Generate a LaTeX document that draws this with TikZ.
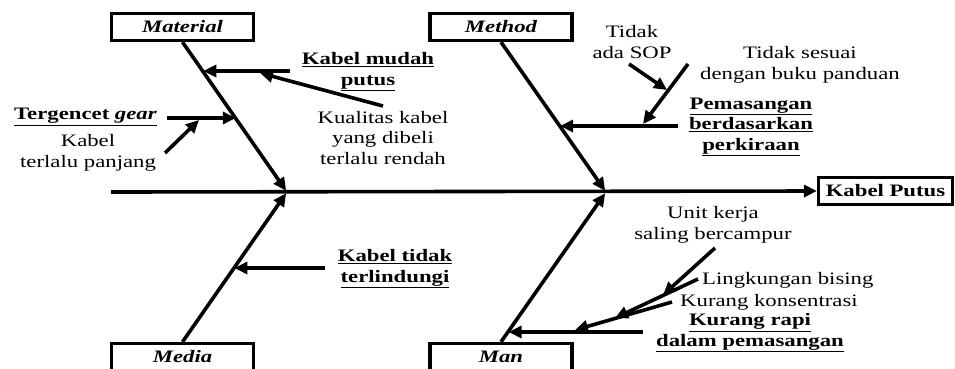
\documentclass[tikz,border=0pt]{standalone}
\usepackage{fontspec}
\setmainfont{Liberation Serif}[FakeStretch=1.3]
\usetikzlibrary{arrows.meta,calc}
\newcommand\fsz{\fontsize{17.5}{20.5}\selectfont}
\tikzset{
  bone/.style={line width=3.6pt,-{Triangle[length=13pt,width=12pt]}},
  catbox/.style={draw,line width=3.2pt,minimum width=142pt,minimum height=27pt,inner sep=0pt,font=\fsz\bfseries\itshape},
  lbl/.style={inner sep=0pt,align=center,font=\fsz},
  blbl/.style={inner sep=0pt,align=center,font=\fsz\bfseries},
}
\begin{document}
\begin{tikzpicture}[x=1pt,y=-1pt]
\useasboundingbox (0,0) rectangle (955,368);
% category boxes
\node[catbox] (mat) at (182.5,27) {Material};
\node[catbox] (met) at (501,27) {Method};
\node[catbox] (med) at (182.5,357) {Media};
\node[catbox] (man) at (501,357) {Man};
\node[draw,line width=3.2pt,minimum width=134pt,minimum height=27pt,inner sep=0pt,font=\fsz\bfseries] (eff) at (885.5,191) {Kabel Putus};
% spine
\coordinate (tail) at (111,192);
\coordinate (j1) at (287,192);
\coordinate (j2) at (606,192);
\draw[bone] (tail) -- (eff.west);
\draw[bone,shorten >=1.5pt] (mat.south) -- (j1);
\draw[bone,shorten >=1.5pt] (met.south) -- (j2);
\draw[bone,shorten >=1.5pt] (med.north) -- (j1);
\draw[bone,shorten >=1.5pt] (man.north) -- (j2);
% Material causes
\node[blbl] (l1) at (368,72) {\underline{Kabel mudah}\\\underline{putus}};
\coordinate (a1s) at (290,71);
\coordinate (a1e) at ($(mat.south)!0.199!(j1)$);
\draw[bone] (a1s) -- (a1e |- a1s);
\node[lbl] (l1b) at (383,138) {Kualitas kabel\\yang dibeli\\terlalu rendah};
\coordinate (b1s) at (383,106);
\coordinate (b1e) at (260,73);
\draw[bone] (b1s) -- (b1e);
\node[blbl] (l2) at (85.5,117) {\underline{Tergencet \textit{gear}}};
\coordinate (a2s) at (167,118);
\coordinate (a2e) at ($(mat.south)!0.51!(j1)$);
\draw[bone] (a2s) -- (a2e |- a2s);
\node[lbl] (l2b) at (88,153) {Kabel\\terlalu panjang};
\coordinate (b2s) at (165,153);
\coordinate (b2e) at (199,120);
\draw[bone] (b2s) -- (b2e);
% Method causes
\node[blbl] (l3) at (751,127) {\underline{Pemasangan}\\\underline{berdasarkan}\\\underline{perkiraan}};
\coordinate (a3s) at (678,126);
\coordinate (a3e) at ($(met.south)!0.563!(j2)$);
\draw[bone] (a3s) -- (a3e |- a3s);
\node[lbl] (l3b) at (800,65) {Tidak sesuai\\dengan buku panduan};
\coordinate (b3s) at (688,64);
\coordinate (b3e) at (643,124);
\draw[bone] (b3s) -- (b3e);
\node[lbl] (l3c) at (632,42) {Tidak\\ada SOP};
\coordinate (c3s) at (629,64);
\coordinate (c3e) at (667,90);
\draw[bone] (c3s) -- (c3e);
% Media cause
\node[blbl] (l4) at (395,269) {\underline{Kabel tidak}\\\underline{terlindungi}};
\coordinate (a4s) at (325,268);
\coordinate (a4e) at ($(med.north)!0.497!(j1)$);
\draw[bone] (a4s) -- (a4e |- a4s);
% Man causes
\node[blbl] (l5) at (750,333) {\underline{Kurang rapi}\\\underline{dalam pemasangan}};
\coordinate (a5s) at (643,332);
\coordinate (a5e) at ($(man.north)!0.073!(j2)$);
\draw[bone] (a5s) -- (a5e |- a5s);
\node[lbl,anchor=west] (l5b) at (680,302) {Kurang konsentrasi};
\coordinate (b5s) at (672,302);
\coordinate (b5e) at (575,330);
\draw[bone] (b5s) -- (b5e);
\node[lbl,anchor=west] (l5c) at (702,280) {Lingkungan bising};
\coordinate (c5s) at (698,279);
\coordinate (c5e) at (615,318);
\draw[bone] (c5s) -- (c5e);
\node[lbl] (l5d) at (713,225) {Unit kerja\\saling bercampur};
\coordinate (d5s) at (715,248);
\coordinate (d5e) at (663,295);
\draw[bone] (d5s) -- (d5e);
\end{tikzpicture}
\end{document}
